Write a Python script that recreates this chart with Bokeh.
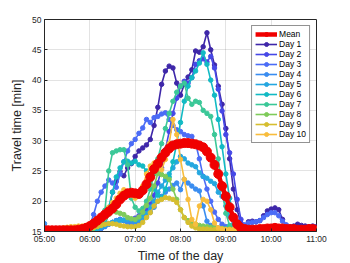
from bokeh.plotting import figure
from bokeh.models import FixedTicker, Legend, LegendItem
from bokeh.embed import file_html
from bokeh.resources import INLINE

# sample times: every 5 minutes from 05:00 to 11:00 (hours)
hours = [5 + i / 12 for i in range(73)]

tick_hours = [5, 6, 7, 8, 9, 10, 11]
tick_labels = ["05:00", "06:00", "07:00", "08:00", "09:00", "10:00", "11:00"]
y_ticks = [15, 20, 25, 30, 35, 40, 45, 50]

mean = [
    15.2, 15.2, 15.2, 15.2, 15.2, 15.2, 15.2, 15.2, 15.2, 15.3, 15.4, 15.6,
    15.9, 16.3, 16.8, 17.3, 17.8, 18.3, 18.8, 19.5, 20.3, 20.9, 21.3, 21.4,
    21.3, 21.2, 21.8, 22.8, 24.0, 25.3, 26.2, 27.2, 28.0, 28.7, 29.2, 29.4,
    29.5, 29.6, 29.6, 29.5, 29.4, 29.2, 28.9, 28.2, 27.2, 26.0, 24.5, 22.5,
    20.8, 19.0, 17.3, 16.2, 15.6, 15.4, 15.3, 15.3, 15.3, 15.4, 15.4, 15.5,
    15.5, 15.6, 15.5, 15.5, 15.4, 15.4, 15.4, 15.3, 15.3, 15.3, 15.4, 15.4,
    15.3]

day1 = [
    15.2, 15.2, 15.2, 15.2, 15.2, 15.2, 15.2, 15.2, 15.2, 15.2, 15.2, 15.2,
    15.2, 15.2, 15.3, 15.5, 16.2, 18.5, 21.5, 23.3, 24.9, 24.2, 25.5, 26.2,
    27.4, 28.3, 28.8, 29.3, 30.2, 32.5, 35.5, 39.3, 41.5, 42.3, 42.0, 39.5,
    37.5, 39.3, 40.5, 41.7, 44.8, 44.6, 45.5, 47.8, 45.0, 42.5, 39.0, 36.0,
    32.0, 27.0, 22.0, 18.6, 16.3, 15.7, 16.6, 16.7, 16.6, 16.8, 17.6, 18.4,
    18.7, 18.9, 18.6, 17.0, 16.0, 15.8, 15.9, 16.2, 16.0, 15.9, 15.8, 15.9,
    15.8]

day2 = [
    15.3, 15.3, 15.3, 15.3, 15.3, 15.3, 15.3, 15.3, 15.3, 15.3, 15.3, 15.3,
    15.3, 15.3, 15.4, 15.6, 15.9, 16.2, 16.5, 16.8, 17.0, 16.8, 16.6, 16.9,
    17.2, 17.6, 18.0, 18.6, 19.5, 21.0, 23.0, 25.5, 28.5, 31.5, 34.5, 37.0,
    39.0, 39.8, 39.5, 40.4, 42.6, 43.2, 43.5, 43.0, 43.9, 42.0, 38.5, 34.9,
    31.0, 28.0, 24.5, 20.3, 17.0, 15.9, 15.6, 15.5, 15.5, 15.5, 15.6, 15.6,
    15.6, 15.6, 15.5, 15.5, 15.5, 15.4, 15.4, 15.4, 15.4, 15.4, 15.4, 15.4,
    15.4]

day3 = [
    15.3, 15.3, 15.3, 15.3, 15.3, 15.3, 15.3, 15.3, 15.3, 15.3, 15.3, 15.4,
    16.0, 17.8, 20.0, 21.5, 22.5, 23.5, 23.0, 22.3, 24.5, 26.5, 28.3, 29.5,
    30.2, 31.2, 32.1, 33.5, 33.0, 33.8, 34.0, 34.4, 34.6, 33.5, 32.5, 31.8,
    31.5, 31.0, 30.8, 30.7, 29.5, 27.0, 24.1, 22.0, 20.0, 18.2, 17.0, 16.2,
    15.8, 15.6, 15.5, 15.6, 15.8, 16.1, 16.4, 16.5, 16.6, 16.8, 17.3, 17.8,
    18.1, 18.1, 17.6, 16.7, 16.1, 15.8, 15.6, 15.5, 15.5, 15.5, 15.4, 15.4,
    15.4]

day4 = [
    16.3, 15.5, 15.3, 15.3, 15.3, 15.3, 15.3, 15.3, 15.3, 15.3, 15.3, 15.3,
    15.3, 15.3, 15.4, 15.5, 15.8, 16.2, 16.5, 16.8, 17.0, 16.8, 16.5, 16.3,
    16.2, 16.5, 17.0, 17.5, 18.2, 19.0, 20.0, 20.8, 21.5, 22.0, 22.6, 23.0,
    21.9, 23.6, 23.0, 22.5, 22.0, 21.7, 19.2, 16.7, 16.0, 15.7, 15.6, 15.5,
    15.5, 15.4, 15.4, 15.4, 15.4, 15.4, 15.4, 15.5, 15.5, 15.5, 15.5, 15.5,
    15.5, 15.5, 15.5, 15.4, 15.4, 15.4, 15.4, 15.4, 15.4, 15.4, 15.4, 15.4,
    15.4]

day5 = [
    15.3, 15.3, 15.3, 15.3, 15.3, 15.3, 15.3, 15.3, 15.3, 15.3, 15.3, 15.3,
    15.3, 15.4, 15.5, 15.7, 16.0, 16.3, 16.5, 16.7, 16.8, 16.9, 17.0, 17.0,
    16.8, 17.0, 17.5, 18.0, 19.0, 20.0, 21.5, 22.5, 23.5, 24.5, 25.5, 26.5,
    27.4, 27.0, 26.3, 26.0, 25.7, 24.7, 24.1, 23.8, 23.3, 22.9, 21.5, 20.8,
    19.2, 17.5, 16.1, 15.7, 15.5, 15.5, 15.4, 15.4, 15.4, 15.4, 15.4, 15.4,
    15.4, 15.4, 15.4, 15.4, 15.4, 15.4, 15.4, 15.4, 15.4, 15.4, 15.4, 15.4,
    15.4]

day6 = [
    15.3, 15.3, 15.3, 15.3, 15.3, 15.3, 15.3, 15.3, 15.3, 15.3, 15.3, 15.3,
    15.3, 15.4, 15.6, 16.0, 17.0, 19.0, 21.5, 24.0, 25.5, 26.5, 26.6, 26.3,
    26.6, 26.0, 25.8, 25.0, 23.5, 22.0, 21.0, 20.5, 22.0, 24.0, 26.5, 29.5,
    33.0, 36.5, 39.0, 40.4, 41.5, 42.8, 44.5, 42.6, 40.0, 37.5, 33.5, 29.0,
    24.5, 20.5, 17.5, 16.0, 15.6, 15.5, 15.5, 15.4, 15.4, 15.4, 15.4, 15.4,
    15.4, 15.4, 15.4, 15.4, 15.4, 15.4, 15.4, 15.4, 15.4, 15.4, 15.4, 15.4,
    15.4]

day7 = [
    15.3, 15.3, 15.3, 15.3, 15.3, 15.3, 15.3, 15.3, 15.3, 15.3, 15.3, 15.3,
    15.4, 15.6, 16.0, 16.8, 18.5, 25.0, 28.0, 28.3, 28.5, 28.5, 26.0, 20.5,
    19.0, 18.4, 18.8, 20.0, 22.0, 24.5, 27.0, 29.5, 32.0, 34.5, 36.5, 38.0,
    39.0, 39.5, 37.0, 36.0, 36.5, 36.3, 35.0, 34.5, 34.0, 31.0, 27.0, 22.0,
    18.0, 16.0, 15.5, 15.4, 15.4, 15.4, 15.4, 15.4, 15.4, 15.4, 15.4, 15.4,
    15.4, 15.4, 15.4, 15.4, 15.4, 15.4, 15.4, 15.4, 15.4, 15.4, 15.4, 15.4,
    15.4]

day8 = [
    15.3, 15.3, 15.3, 15.3, 15.3, 15.3, 15.3, 15.3, 15.3, 15.3, 15.3, 15.3,
    15.4, 15.6, 16.0, 16.5, 17.2, 17.8, 18.4, 18.2, 18.0, 17.8, 17.3, 17.1,
    17.0, 17.4, 18.2, 19.3, 20.5, 22.5, 24.6, 24.4, 24.1, 23.6, 22.0, 20.3,
    18.6, 17.3, 16.8, 16.4, 16.2, 16.0, 15.9, 15.8, 15.7, 15.6, 15.5, 15.5,
    15.4, 15.4, 15.4, 15.4, 15.4, 15.4, 15.4, 15.4, 15.4, 15.4, 15.4, 15.4,
    15.4, 15.4, 15.4, 15.4, 15.4, 15.4, 15.4, 15.4, 15.4, 15.4, 15.4, 15.4,
    15.4]

day9 = [
    15.3, 15.3, 15.3, 15.3, 15.3, 15.3, 15.3, 15.3, 15.3, 15.3, 15.3, 15.3,
    15.4, 15.6, 15.8, 16.0, 16.2, 16.3, 16.3, 16.2, 16.0, 15.9, 15.8, 15.8,
    15.8, 16.0, 16.5, 17.3, 18.1, 19.2, 20.0, 20.3, 20.6, 20.5, 20.3, 19.8,
    18.6, 17.3, 16.5, 15.9, 15.6, 15.4, 15.4, 15.4, 15.3, 15.3, 15.3, 15.3,
    15.3, 15.3, 15.3, 15.3, 15.3, 15.3, 15.3, 15.3, 15.3, 15.3, 15.3, 15.3,
    15.3, 15.3, 15.3, 15.3, 15.3, 15.3, 15.3, 15.3, 15.3, 15.3, 15.3, 15.3,
    15.3]

day10 = [
    15.3, 15.3, 15.3, 15.4, 15.5, 15.6, 15.7, 15.8, 15.8, 15.9, 15.9, 16.0,
    16.2, 16.5, 17.0, 17.5, 18.2, 19.0, 19.8, 20.5, 21.3, 21.9, 21.6, 21.0,
    20.5, 21.0, 22.5, 24.5, 25.8, 26.3, 26.0, 25.2, 26.9, 29.5, 33.5, 31.0,
    26.9, 23.6, 20.3, 17.0, 16.2, 19.2, 20.3, 20.0, 18.6, 16.4, 15.6, 15.4,
    15.3, 15.3, 15.3, 15.3, 15.3, 15.3, 15.3, 15.3, 15.3, 15.3, 15.3, 15.3,
    15.3, 15.3, 15.3, 15.3, 15.3, 15.3, 15.3, 15.3, 15.3, 15.3, 15.3, 15.3,
    15.3]

day_names = ["Day 1", "Day 2", "Day 3", "Day 4", "Day 5",
             "Day 6", "Day 7", "Day 8", "Day 9", "Day 10"]
day_series = [day1, day2, day3, day4, day5, day6, day7, day8, day9, day10]
day_colors = ["#3E27A9", "#4648E6", "#4B6CF6", "#3A8DF0", "#25A7E0",
              "#12BAC4", "#3BC898", "#7FCB5A", "#D6BE30", "#F8BD3D"]
mean_color = "#F00000"

FONT = "Liberation Sans"
INK = "#262626"

p = figure(frame_width=272, frame_height=212, x_range=(5, 11), y_range=(15, 50),
           output_backend="svg", toolbar_location=None,
           min_border_left=44, min_border_right=30, min_border_top=19,
           min_border_bottom=30)
p.background_fill_color = "white"
p.border_fill_color = "white"
p.outline_line_color = INK
p.outline_line_width = 1

p.xaxis.ticker = FixedTicker(ticks=tick_hours)
p.xaxis.major_label_overrides = {h: lab for h, lab in zip(tick_hours, tick_labels)}
p.yaxis.ticker = FixedTicker(ticks=y_ticks)

for ax in (p.xaxis, p.yaxis):
    ax.axis_line_color = INK
    ax.major_tick_line_color = INK
    ax.major_tick_in = 3
    ax.major_tick_out = 0
    ax.minor_tick_line_color = None
    ax.major_label_text_font = FONT
    ax.major_label_text_font_size = "8.5px"
    ax.major_label_text_color = INK
    ax.major_label_standoff = 3
    ax.axis_label_text_font = FONT
    ax.axis_label_text_font_size = "12.5px"
    ax.axis_label_text_font_style = "normal"
    ax.axis_label_text_color = INK

p.xaxis.major_label_standoff = 2
p.xaxis.axis_label = "Time of the day"
p.xaxis.axis_label_standoff = 2
p.yaxis.axis_label = "Travel time [min]"
p.yaxis.axis_label_standoff = 5

p.grid.grid_line_color = INK
p.grid.grid_line_alpha = 0.13
p.xgrid.ticker = FixedTicker(ticks=tick_hours)
p.ygrid.ticker = FixedTicker(ticks=y_ticks)

items = []
day_items = []
for name, ys, col in zip(day_names, day_series, day_colors):
    r1 = p.line(hours, ys, line_color=col, line_width=1.6)
    r2 = p.scatter(hours, ys, marker="circle", size=4.5, fill_color=col, line_color=col)
    day_items.append(LegendItem(label=name, renderers=[r1, r2]))

m1 = p.line(hours, mean, line_color=mean_color, line_width=4.5)
m2 = p.scatter(hours, mean, marker="circle", size=9, fill_color=mean_color, line_color=mean_color)
items.append(LegendItem(label="Mean", renderers=[m1, m2]))
items.extend(day_items)

legend = Legend(items=items, location="top_right")
legend.margin = 6
legend.padding = 3
legend.spacing = 0
legend.glyph_height = 10
legend.label_height = 10
legend.glyph_width = 22
legend.label_standoff = 2
legend.label_text_font = FONT
legend.label_text_font_size = "8.5px"
legend.label_text_color = "black"
legend.border_line_color = INK
legend.border_line_width = 0.8
legend.background_fill_color = "white"
legend.background_fill_alpha = 1
p.add_layout(legend)

open("out.html", "w").write(file_html(p, INLINE))
